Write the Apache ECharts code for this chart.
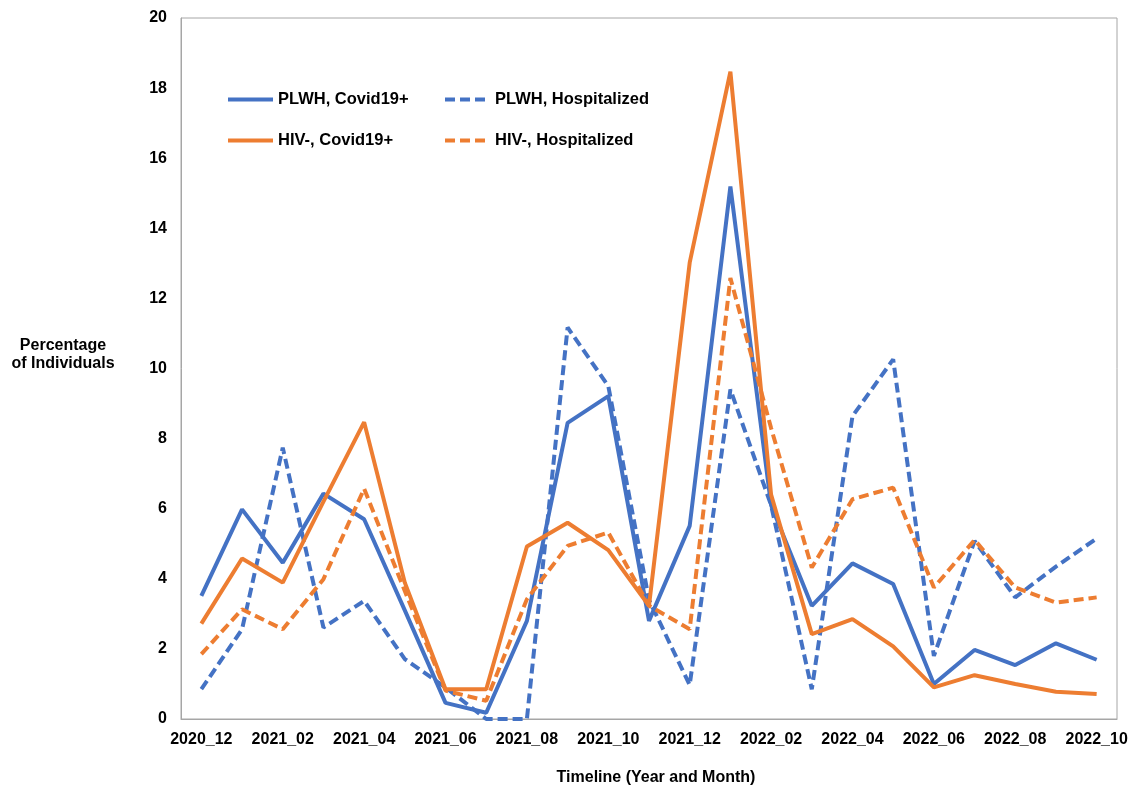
<!DOCTYPE html>
<html>
<head>
<meta charset="utf-8">
<script src="https://cdn.jsdelivr.net/npm/echarts@6/dist/echarts.min.js"></script>
<style>html,body{margin:0;padding:0;background:#fff;}#chart{width:1136px;height:791px;}</style>
</head>
<body>
<div id="chart"></div>
<script>
const months = ['2020_12','2021_01','2021_02','2021_03','2021_04','2021_05','2021_06','2021_07','2021_08','2021_09','2021_10','2021_11','2021_12','2022_01','2022_02','2022_03','2022_04','2022_05','2022_06','2022_07','2022_08','2022_09','2022_10'];
const plwhCovid = [3.51, 5.98, 4.46, 6.43, 5.70, 3.10, 0.46, 0.18, 2.80, 8.45, 9.21, 2.80, 5.51, 15.19, 6.10, 3.23, 4.44, 3.85, 1.00, 1.97, 1.54, 2.16, 1.69];
const plwhHosp = [0.85, 2.56, 7.74, 2.61, 3.37, 1.71, 0.90, 0, 0, 11.17, 9.50, 3.40, 0.97, 9.40, 6.10, 0.85, 8.64, 10.26, 1.80, 5.08, 3.47, 4.35, 5.15];
const hivCovid = [2.72, 4.58, 3.89, 6.20, 8.47, 3.89, 0.85, 0.85, 4.92, 5.60, 4.82, 3.23, 13.02, 18.47, 6.40, 2.42, 2.85, 2.07, 0.90, 1.25, 1.00, 0.78, 0.71];
const hivHosp = [1.85, 3.13, 2.56, 3.99, 6.57, 3.65, 0.81, 0.52, 3.42, 4.94, 5.32, 3.23, 2.56, 12.58, 8.30, 4.32, 6.27, 6.60, 3.75, 5.11, 3.75, 3.32, 3.47];
const seriesNames = ['PLWH, Covid19+', 'PLWH, Hospitalized', 'HIV-, Covid19+', 'HIV-, Hospitalized'];
const yTitle = 'Percentage\nof Individuals';
const xTitle = 'Timeline (Year and Month)';

const BLUE = '#4472C4', ORANGE = '#ED7D31';
const FONT = "'Liberation Sans', Arial, sans-serif";
const chart = echarts.init(document.getElementById('chart'), null, {renderer: 'canvas'});

function mk(name, data, color, dashed) {
  return {
    name: name, type: 'line', data: data, symbol: 'none', smooth: false,
    lineStyle: {color: color, width: 4, type: dashed ? [10, 5] : 'solid'},
    itemStyle: {color: color},
    animation: false
  };
}
const legendCommon = {
  orient: 'vertical', itemWidth: 45, itemHeight: 16, itemGap: 24, padding: 0,
  itemStyle: {opacity: 0},
  lineStyle: {width: 4},
  textStyle: {fontFamily: FONT, fontWeight: 'bold', fontSize: 16.5, color: '#000'}
};
chart.setOption({
  backgroundColor: '#fff',
  animation: false,
  grid: {left: 181, right: 19, top: 18, bottom: 71, show: true, borderColor: '#a6a6a6', borderWidth: 1, containLabel: false},
  legend: [
    Object.assign({}, legendCommon, {left: 226, top: 91, data: [seriesNames[0], seriesNames[2]]}),
    Object.assign({}, legendCommon, {left: 443, top: 91, data: [seriesNames[1], seriesNames[3]]})
  ],
  graphic: [{
    type: 'text', x: 63, y: 355,
    style: {text: yTitle, fontFamily: FONT, fontWeight: 'bold', fontSize: 16, lineHeight: 18, fill: '#000', align: 'center', verticalAlign: 'middle'}
  }],
  xAxis: {
    type: 'category', data: months, boundaryGap: true,
    axisLine: {show: true, lineStyle: {color: '#a6a6a6', width: 1}},
    axisTick: {show: false},
    axisLabel: {interval: 1, margin: 13, fontFamily: FONT, fontWeight: 'bold', fontSize: 16, color: '#000'},
    name: xTitle, nameLocation: 'middle', nameGap: 51,
    nameTextStyle: {fontFamily: FONT, fontWeight: 'bold', fontSize: 16, color: '#000', padding: [0, 0, 0, 14]}
  },
  yAxis: {
    type: 'value', min: 0, max: 20, interval: 2,
    axisLine: {show: true, lineStyle: {color: '#a6a6a6', width: 1}},
    axisTick: {show: false},
    splitLine: {show: false},
    axisLabel: {margin: 14, fontFamily: FONT, fontWeight: 'bold', fontSize: 16, color: '#000'}
  },
  series: [
    mk(seriesNames[0], plwhCovid, BLUE, false),
    mk(seriesNames[1], plwhHosp, BLUE, true),
    mk(seriesNames[2], hivCovid, ORANGE, false),
    mk(seriesNames[3], hivHosp, ORANGE, true)
  ]
});
</script>
</body>
</html>
